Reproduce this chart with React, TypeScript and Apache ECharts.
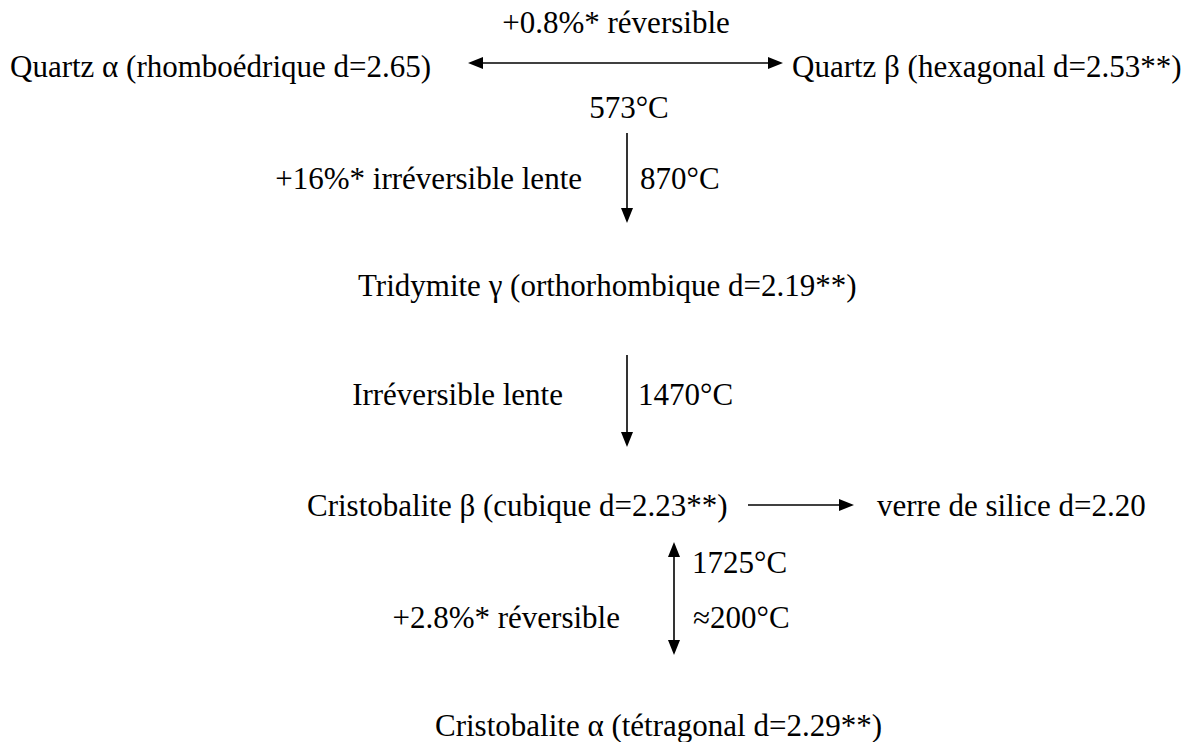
import React, { useEffect, useRef } from "react";
import * as echarts from "echarts";

// ---- content ----
const phases = [
  "Quartz α (rhomboédrique d=2.65)",
  "Quartz β (hexagonal d=2.53**)",
  "Tridymite γ (orthorhombique d=2.19**)",
  "Cristobalite β (cubique d=2.23**)",
  "verre de silice d=2.20",
  "Cristobalite α (tétragonal d=2.29**)",
];
const transitions = [
  "+0.8%* réversible",
  "+16%* irréversible lente",
  "Irréversible lente",
  "+2.8%* réversible",
];
const temperatures = ["573°C", "870°C", "1470°C", "1725°C", "≈200°C"];

// ---- layout ----
type Pos = { x: number; y: number; align: string };
const phaseLayout: Pos[] = [
  { x: 10, y: 66, align: "left" },
  { x: 792, y: 66, align: "left" },
  { x: 358, y: 285, align: "left" },
  { x: 307, y: 505, align: "left" },
  { x: 877, y: 505, align: "left" },
  { x: 435, y: 725, align: "left" },
];
const transitionLayout: Pos[] = [
  { x: 616, y: 22, align: "center" },
  { x: 582, y: 178, align: "right" },
  { x: 563, y: 394, align: "right" },
  { x: 620, y: 617, align: "right" },
];
const temperatureLayout: Pos[] = [
  { x: 629, y: 107, align: "center" },
  { x: 640, y: 178, align: "left" },
  { x: 638, y: 394, align: "left" },
  { x: 692, y: 562, align: "left" },
  { x: 693, y: 617, align: "left" },
];
const arrows = [
  { x1: 468, y1: 63, x2: 783, y2: 63, both: true },
  { x1: 627, y1: 133, x2: 627, y2: 223, both: false },
  { x1: 627, y1: 355, x2: 627, y2: 447, both: false },
  { x1: 748, y1: 505, x2: 854, y2: 505, both: false },
  { x1: 674, y1: 542, x2: 674, y2: 655, both: true },
];

const FONT_FAMILY = '"Liberation Serif", "Times New Roman", serif';
const FONT_SIZE = 31;
const HEAD_LEN = 15;
const HEAD_HALF = 6;

function textEl(text: string, p: Pos) {
  return {
    type: "text",
    x: p.x,
    y: p.y,
    silent: true,
    style: {
      text,
      fill: "#000",
      fontFamily: FONT_FAMILY,
      fontSize: FONT_SIZE,
      align: p.align,
      verticalAlign: "middle",
      textAlign: p.align,
      textVerticalAlign: "middle",
    },
  };
}

function head(tx: number, ty: number, dx: number, dy: number) {
  const bx = tx - dx * HEAD_LEN;
  const by = ty - dy * HEAD_LEN;
  const nx = -dy;
  const ny = dx;
  return {
    type: "polygon",
    silent: true,
    shape: {
      points: [
        [tx, ty],
        [bx + nx * HEAD_HALF, by + ny * HEAD_HALF],
        [bx - nx * HEAD_HALF, by - ny * HEAD_HALF],
      ],
    },
    style: { fill: "#000", stroke: "none" },
  };
}

function arrowEls(a: { x1: number; y1: number; x2: number; y2: number; both: boolean }) {
  const len = Math.hypot(a.x2 - a.x1, a.y2 - a.y1);
  const dx = (a.x2 - a.x1) / len;
  const dy = (a.y2 - a.y1) / len;
  const els: any[] = [
    {
      type: "line",
      silent: true,
      shape: {
        x1: a.both ? a.x1 + dx * (HEAD_LEN - 2) : a.x1,
        y1: a.both ? a.y1 + dy * (HEAD_LEN - 2) : a.y1,
        x2: a.x2 - dx * (HEAD_LEN - 2),
        y2: a.y2 - dy * (HEAD_LEN - 2),
      },
      style: { stroke: "#000", lineWidth: 1.6 },
    },
    head(a.x2, a.y2, dx, dy),
  ];
  if (a.both) els.push(head(a.x1, a.y1, -dx, -dy));
  return els;
}

export default function App() {
  const ref = useRef<HTMLDivElement>(null);
  useEffect(() => {
    if (!ref.current) return;
    const chart = echarts.init(ref.current, undefined, { renderer: "svg" });
    const elements: any[] = [];
    phases.forEach((t, i) => elements.push(textEl(t, phaseLayout[i])));
    transitions.forEach((t, i) => elements.push(textEl(t, transitionLayout[i])));
    temperatures.forEach((t, i) => elements.push(textEl(t, temperatureLayout[i])));
    arrows.forEach((a) => elements.push(...arrowEls(a)));
    chart.setOption({
      animation: false,
      backgroundColor: "#ffffff",
      graphic: { elements },
    });
    return () => chart.dispose();
  }, []);
  return (
    <div
      ref={ref}
      style={{ position: "fixed", left: 0, top: 0, width: 1198, height: 742, background: "#fff" }}
    />
  );
}
